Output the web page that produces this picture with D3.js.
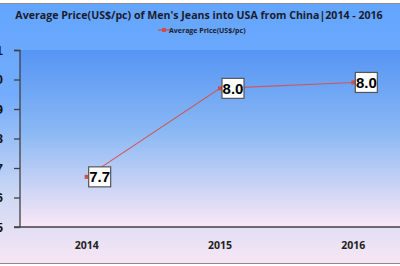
<!DOCTYPE html>
<html><head><meta charset="utf-8">
<script src="https://cdn.jsdelivr.net/npm/d3@7"></script>
<style>html,body{margin:0;padding:0;background:#fff;overflow:hidden}</style>
</head><body>
<svg id="c" width="400" height="266"></svg>
<script>
const years = ["2014", "2015", "2016"];
const prices = [7.67, 7.97, 7.99];
const priceLabels = ["7.7", "8.0", "8.0"];
const yTicks = [7.5, 7.6, 7.7, 7.8, 7.9, 8.0, 8.1];
const title = "Average Price(US$/pc) of Men's Jeans into USA from China|2014 - 2016";
const seriesName = "Average Price(US$/pc)";

const svg = d3.select("#c");
const defs = svg.append("defs");
const g1 = defs.append("linearGradient").attr("id","outer").attr("x1",0).attr("y1",0).attr("x2",0).attr("y2",1);
g1.append("stop").attr("offset","0%").attr("stop-color","#63a5ff");
g1.append("stop").attr("offset","35%").attr("stop-color","#73acfb");
g1.append("stop").attr("offset","75%").attr("stop-color","#d0d9f3");
g1.append("stop").attr("offset","100%").attr("stop-color","#f7e6f5");
const g2 = defs.append("linearGradient").attr("id","plot").attr("x1",0).attr("y1",0).attr("x2",0).attr("y2",1);
g2.append("stop").attr("offset","0%").attr("stop-color","#5695f4");
g2.append("stop").attr("offset","45%").attr("stop-color","#88b7f4");
g2.append("stop").attr("offset","100%").attr("stop-color","#fae8f6");

svg.append("rect").attr("x",-2).attr("y",3.5).attr("width",404).attr("height",260)
  .attr("fill","url(#outer)").attr("stroke","#8c8c8c").attr("stroke-width",1);

const x = d3.scaleBand().domain(years).range([20, 420]).padding(0);
const y = d3.scaleLinear().domain([7.5, 8.1]).range([227, 50]);

svg.append("rect").attr("x",20).attr("y",50).attr("width",400).attr("height",177).attr("fill","url(#plot)");

// y axis
const ya = svg.append("g").attr("transform","translate(20,0)")
  .call(d3.axisLeft(y).tickValues(yTicks).tickSize(6).tickPadding(11).tickFormat(d3.format(".1f")));
ya.select(".domain").attr("stroke","#404040").attr("stroke-width",1.3).attr("d","M-6,50.5H0V227");
ya.selectAll(".tick line").attr("stroke","#404040").attr("stroke-width",1.3);
ya.selectAll(".tick text").attr("font-family","Liberation Sans, Arial, sans-serif").attr("font-weight","bold").attr("font-size","13px").attr("fill","#111");

// x axis
const xa = svg.append("g").attr("transform","translate(0,227)")
  .call(d3.axisBottom(x).tickSize(0).tickPadding(15));
xa.select(".domain").attr("stroke","#404040").attr("stroke-width",1.3).attr("d","M14,0H420");
xa.selectAll(".tick text").attr("font-family","Open Sans, sans-serif").attr("font-weight","bold").attr("font-size","10.5px").attr("fill","#222");

// title
svg.append("text").attr("x",199).attr("y",19).attr("text-anchor","middle")
  .attr("font-family","Open Sans, sans-serif").attr("font-weight","bold").attr("font-size","10.6px").attr("fill","#1c1c2c")
  .text(title);

// legend
svg.append("line").attr("x1",158).attr("x2",170).attr("y1",30).attr("y2",30).attr("stroke","#c9504d").attr("stroke-width",1.3);
svg.append("rect").attr("x",162).attr("y",28).attr("width",4).attr("height",4).attr("fill","#c9504d");
svg.append("text").attr("x",169).attr("y",32.5).attr("font-family","Open Sans, sans-serif").attr("font-weight","bold").attr("font-size","7px").attr("fill","#1c1c2c").text(seriesName);

// line
const pts = years.map((yr,i)=>({yr, v:prices[i], lab:priceLabels[i]}));
const line = d3.line().x(d=>x(d.yr)+x.bandwidth()/2).y(d=>y(d.v));
svg.append("path").datum(pts).attr("d",line).attr("fill","none").attr("stroke","#cc5858").attr("stroke-width",1.1);
svg.selectAll(".mk").data(pts).enter().append("rect").attr("class","mk")
  .attr("x",d=>x(d.yr)+x.bandwidth()/2-2).attr("y",d=>y(d.v)-2).attr("width",4).attr("height",4).attr("fill","#c9504d");

// data labels
const lg = svg.selectAll(".lab").data(pts).enter().append("g").attr("class","lab")
  .attr("transform",d=>`translate(${x(d.yr)+x.bandwidth()/2+2},${y(d.v)})`);
lg.append("rect").attr("x",0).attr("y",-10).attr("width",22).attr("height",20).attr("fill","#fff").attr("stroke","#555").attr("stroke-width",1.2);
lg.append("text").attr("x",11).attr("y",5.5).attr("text-anchor","middle").attr("font-family","Liberation Sans, Arial, sans-serif").attr("font-weight","bold").attr("font-size","15px").attr("fill","#000").text(d=>d.lab);
</script>
</body></html>
